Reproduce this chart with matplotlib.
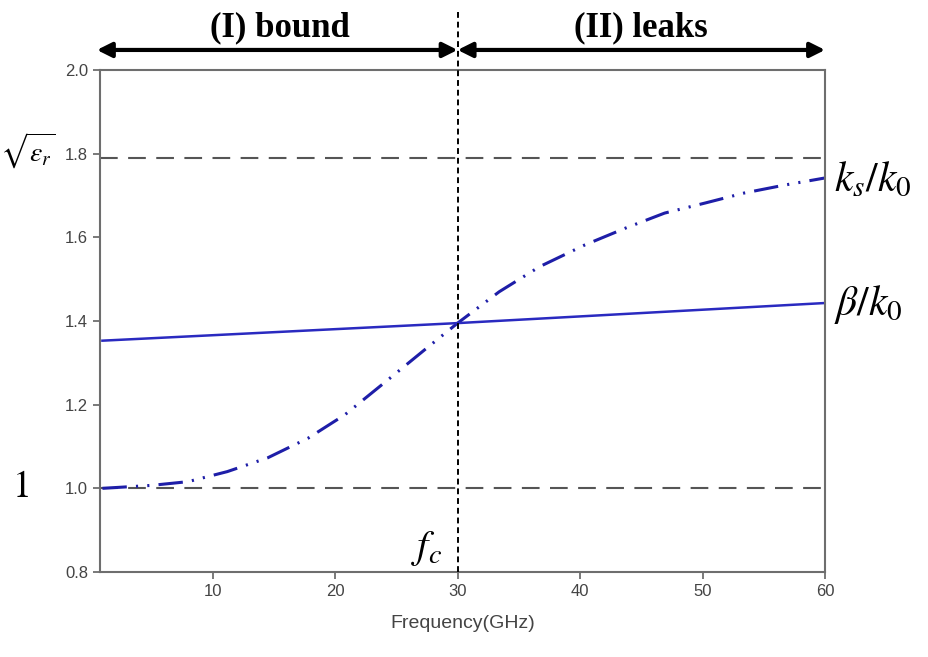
import matplotlib.pyplot as plt
import numpy as np

# frequency samples (GHz)
freq = [1, 5, 8, 11.2, 14.5, 17.8, 20.8, 24.0, 27.3, 30, 33.4, 36.7, 40.4, 43.7, 46.9, 50.2, 53.4, 56.7, 60]
ks_k0 = [1.0, 1.007, 1.016, 1.04, 1.073, 1.12, 1.176, 1.252, 1.331, 1.395, 1.47, 1.53, 1.582, 1.622, 1.658, 1.682, 1.706, 1.725, 1.742]
beta_freq = [1, 30, 60]
beta_k0 = [1.353, 1.395, 1.443]
sqrt_er = 1.79
f_c = 30
yticks = [0.8, 1.0, 1.2, 1.4, 1.6, 1.8, 2.0]
xticks = [10, 20, 30, 40, 50, 60]

plt.rcParams['mathtext.fontset'] = 'stix'
plt.rcParams['font.family'] = ['Liberation Sans', 'DejaVu Sans']

fig = plt.figure(figsize=(9.29, 6.57), dpi=100)
ax = fig.add_axes([0.1076, 0.1294, 0.7805, 0.764])

grey = '#6e6e6e'
ax.axhline(sqrt_er, color='#555555', lw=1.5, ls=(0, (8.5, 5)))
ax.axhline(1.0, color='#555555', lw=1.5, ls=(0, (8.5, 5)))

ax.plot(freq, ks_k0, color='#1e1ea8', lw=2.2, ls=(0, (8, 3, 0.7, 3, 0.7, 3)))
ax.plot(beta_freq, beta_k0, color='#2a2ac0', lw=1.8)

# cutoff line, runs above the axes up to the titles
ax.plot([f_c, f_c], [0.8, 2.14], color='black', lw=1.4, ls=(0, (3, 2)), clip_on=False, zorder=5)

ax.set_xlim(0.8, 60)
ax.set_ylim(0.8, 2.0)
ax.set_xticks(xticks)
ax.set_yticks(yticks)
ax.set_yticklabels(['%.1f' % v for v in yticks])
for s in ax.spines.values():
    s.set_color(grey)
    s.set_linewidth(1.5)
ax.tick_params(colors=grey, width=1.3, length=5, labelsize=12, labelcolor='#444444')
ax.set_xlabel('Frequency(GHz)', fontsize=14, color='#444444', labelpad=12)

# region arrows and titles
arr = dict(arrowstyle='<|-|>', color='black', lw=3, mutation_scale=22, shrinkA=0, shrinkB=0)
ax.annotate('', xy=(0.55, 2.048), xytext=(f_c, 2.048), arrowprops=arr, annotation_clip=False)
ax.annotate('', xy=(f_c, 2.048), xytext=(60, 2.048), arrowprops=arr, annotation_clip=False)
ax.text(15.5, 2.102, '(I) bound', fontsize=25, fontweight='bold', family='Liberation Serif',
        ha='center', va='center')
ax.text(45, 2.102, '(II) leaks', fontsize=25, fontweight='bold', family='Liberation Serif',
        ha='center', va='center')

# curve labels
fig.text(0.0, 0.77, r'$\sqrt{\varepsilon_r}$', fontsize=20, ha='left', va='center')
fig.text(0.022, 0.258, r'$1$', fontsize=27, ha='center', va='center')
fig.text(0.898, 0.726, r'$k_s/k_0$', fontsize=30, ha='left', va='center')
fig.text(0.898, 0.536, r'$\beta/k_0$', fontsize=30, ha='left', va='center')
fig.text(0.459, 0.165, r'$f_c$', fontsize=29, ha='center', va='center')

fig.savefig('out.png', dpi=100)
